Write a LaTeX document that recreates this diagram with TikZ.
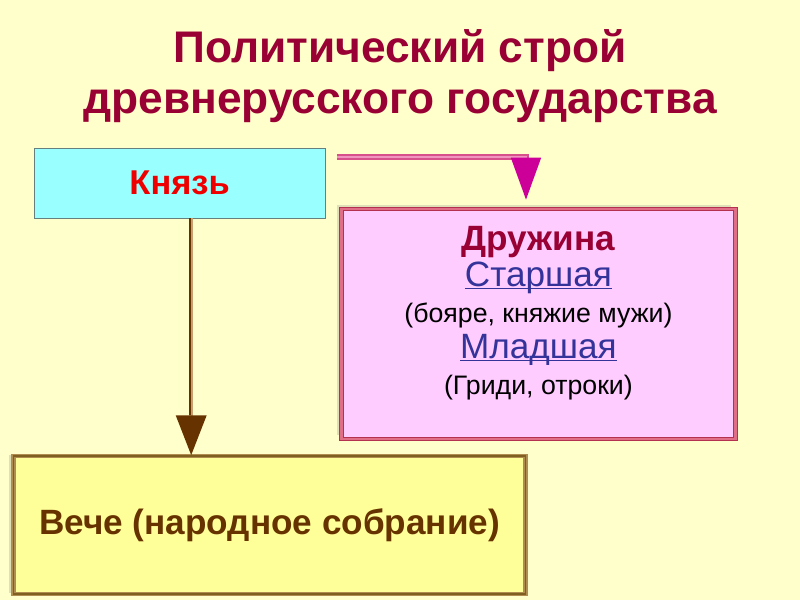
\documentclass[tikz,border=0pt]{standalone}
\usepackage{fontspec}
\setmainfont{Liberation Sans}
\usepackage{tikz}
\usetikzlibrary{arrows.meta, shadows}
\definecolor{bgyellow}{HTML}{FFFFCC}
\definecolor{titlered}{HTML}{990033}
\definecolor{knyazred}{HTML}{EE0000}
\definecolor{linkblue}{HTML}{333399}
\definecolor{vechebrown}{HTML}{663300}
\tikzstyle{cyanbox} = [rectangle, minimum width=7.275cm, minimum height=1.75cm, text centered, draw=gray!80!teal, fill={rgb,255:red,153;green,255;blue,255}]
\tikzstyle{pinkbox} = [rectangle, minimum width=9.85cm, minimum height=5.75cm, align=center, draw={rgb,255:red,180;green,50;blue,80}, double={rgb,255:red,225;green,110;blue,135}, double distance=1.6pt, line width=0.8pt, fill={rgb,255:red,255;green,204;blue,255}, drop shadow={shadow xshift=-3pt, shadow yshift=3pt, opacity=0.25}]
\tikzstyle{yellowbox} = [rectangle, minimum width=12.8cm, minimum height=3.45cm, text centered, draw={rgb,255:red,176;green,140;blue,80}, double={rgb,255:red,128;green,96;blue,32}, double distance=1pt, line width=1pt, fill={rgb,255:red,255;green,255;blue,153}, drop shadow={shadow xshift=-3pt, shadow yshift=1pt, opacity=0.25}]
\tikzstyle{brownarrow} = [line width=2.6pt, draw={rgb,255:red,200;green,160;blue,112}, -{Triangle[width=0.75cm,length=1cm,fill=vechebrown,color=vechebrown]}]
\tikzstyle{pinkarrow} = [line width=1pt, draw={rgb,255:red,215;green,80;blue,140}, double={rgb,255:red,240;green,150;blue,190}, double distance=1.6pt, -{Triangle[width=0.75cm,length=1.05cm,fill={rgb,255:red,204;green,0;blue,153},color={rgb,255:red,204;green,0;blue,153}]}]
\newcommand{\linkword}[1]{{\fontsize{25}{25.5}\selectfont\textcolor{linkblue}{\underline{\smash{#1}}}}}

\begin{document}
\begin{tikzpicture}
	\fill[bgyellow] (0,0) rectangle (20,15);
	\useasboundingbox (0,0) rectangle (20,15);
	\node (title) [align=center, text=titlered, font=\fontsize{31.5}{36.5}\selectfont\bfseries] at (10,13.1) {Политический строй\\древнерусского государства};
	\node (n0) [cyanbox, text=knyazred, font=\fontsize{24.5}{28}\selectfont\bfseries] at (4.49,10.425) {Князь};
	\node (n1) [pinkbox, font=\fontsize{19}{25.5}\selectfont] at (13.46,6.9) {%
		{\fontsize{25}{25.5}\selectfont\bfseries\textcolor{titlered}{Дружина}}\\
		\linkword{Старшая}\\
		(бояре, княжие мужи)\\
		\linkword{Младшая}\\
		(Гриди, отроки)\\[-6pt]};
	\node (n2) [yellowbox, text=vechebrown, font=\fontsize{25}{30}\selectfont\bfseries] at (6.74,1.875) {Вече (народное собрание)};

	% vertical connector
	\draw [brownarrow] ([xshift=0.29cm]n0.south) -- ([xshift=0.29cm]n0.south |- n2.north);
	\draw [line width=0.9pt, vechebrown] ([xshift=0.26cm]n0.south) -- ([xshift=0.26cm,yshift=1cm]n0.south |- n2.north);
	% to the druzhina
	\draw [pinkarrow] ([xshift=0.3cm,yshift=0.65cm]n0.east) -| ([xshift=-0.31cm,yshift=0.22cm]n1.north);
\end{tikzpicture}
\end{document}
